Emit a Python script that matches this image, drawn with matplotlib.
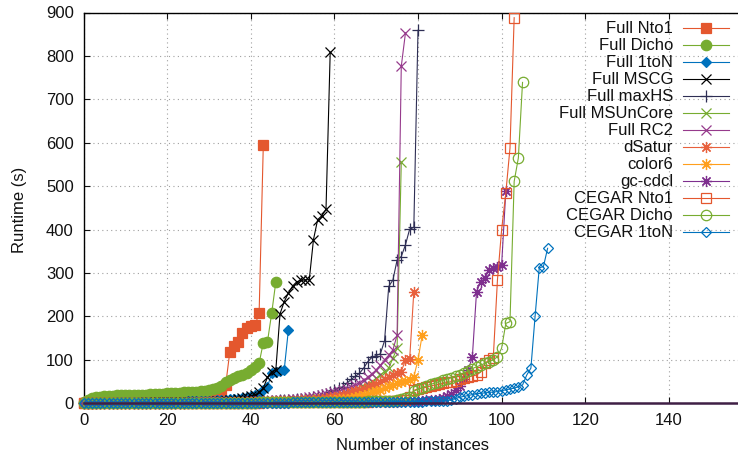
import numpy as np
import matplotlib.pyplot as plt
from matplotlib.lines import Line2D

plt.rcParams['font.family'] = ['Liberation Sans', 'DejaVu Sans']

# sorted runtimes (s) per solver, x = instance index
full_nto1 = [1, 1, 1, 2, 2, 2, 2, 3, 3, 3, 3, 4, 4, 4, 4, 5, 5, 5, 5, 6, 6, 6, 7, 7, 7, 8, 8, 9, 9, 10,
             11, 12, 14, 25, 42, 119, 132, 142, 162, 173, 177, 180, 207, 594]
full_dicho = [3, 8, 12, 14, 15, 16, 17, 17, 18, 18, 19, 19, 19, 20, 20, 20, 21, 21, 22, 22, 23, 23, 24, 24,
              25, 26, 27, 27, 28, 29, 30, 32, 35, 40, 50, 54, 58, 62, 66, 70, 77, 84, 92, 140, 142, 207, 280]
full_1ton = [0, 0, 1, 1, 1, 1, 1, 1, 2, 2, 2, 2, 2, 2, 3, 3, 3, 3, 3, 3, 4, 4, 4, 4, 4, 5, 5, 5, 5, 6,
             6, 6, 7, 7, 7, 9, 10, 11, 12, 14, 16, 19, 22, 31, 38, 69, 72, 74, 77, 169]
full_mscg = [1, 1, 1, 1, 1, 1, 1, 1, 1, 1, 1, 1, 1, 1, 1, 2, 2, 2, 2, 2, 2, 2, 2, 2, 3, 3, 3, 3, 3, 4,
             4, 4, 5, 5, 6, 7, 8, 10, 12, 14, 17, 19, 25, 35, 60, 73, 77, 206, 234, 254, 270, 280, 283,
             284, 285, 377, 423, 432, 447, 808]
full_maxhs = [0, 0, 0, 0, 0, 0, 0, 0, 0, 0, 1, 1, 1, 1, 1, 1, 1, 1, 1, 1, 1, 1, 1, 1, 1, 2, 2, 2, 2, 2,
              2, 2, 2, 2, 3, 3, 3, 3, 3, 4, 4, 4, 5, 5, 5, 6, 6, 7, 7, 8, 8, 9, 10, 11, 12, 14,
              16, 19, 22, 26, 30, 35, 38, 46, 55, 62, 69, 81, 96, 106, 110, 114, 144, 269, 284, 330,
              338, 365, 401, 405, 859]
full_msuncore = [0, 0, 0, 0, 0, 0, 0, 0, 0, 0, 0, 0, 1, 1, 1, 1, 1, 1, 1, 1, 1, 1, 1, 1, 1, 1, 1, 2, 2, 2,
                 2, 2, 2, 2, 2, 2, 3, 3, 3, 3, 3, 4, 4, 4, 5, 5, 5, 6, 6, 7, 7, 8, 8, 9, 10, 10, 11, 12,
                 13, 14, 16, 18, 20, 23, 26, 30, 34, 38, 43, 50, 58, 65, 73, 81, 104, 127, 555]
full_rc2 = [0, 0, 0, 0, 0, 0, 0, 0, 0, 0, 0, 0, 0, 0, 0, 1, 1, 1, 1, 1, 1, 1, 1, 1, 1, 1, 2, 2, 2, 2,
            2, 2, 2, 3, 3, 3, 3, 4, 4, 4, 5, 5, 5, 6, 6, 6, 7, 7, 8, 8, 9, 10, 11, 12, 14, 15, 17, 19,
            21, 23, 25, 28, 31, 34, 38, 42, 47, 53, 60, 68, 77, 88, 100, 111, 123, 157, 776, 853]
dsatur = [0, 0, 0, 0, 0, 0, 0, 0, 0, 0, 0, 0, 0, 0, 0, 0, 0, 1, 1, 1, 1, 1, 1, 1, 1, 1, 1, 1, 2, 2,
          2, 2, 2, 2, 2, 3, 3, 3, 3, 3, 3, 4, 4, 4, 4, 5, 5, 5, 5, 6, 6, 6, 7, 7, 7, 8, 9, 10, 12, 14,
          15, 17, 20, 22, 25, 28, 30, 34, 38, 42, 45, 50, 55, 60, 65, 69, 73, 100, 101, 257]
color6 = [0, 0, 0, 0, 0, 0, 0, 0, 0, 0, 0, 0, 0, 0, 0, 0, 0, 0, 0, 0, 1, 1, 1, 1, 1, 1, 1, 1, 1, 1,
          1, 1, 1, 1, 1, 2, 2, 2, 2, 2, 2, 2, 2, 2, 2, 3, 3, 3, 3, 3, 3, 4, 4, 4, 4, 5, 5, 6, 6, 7,
          8, 9, 10, 11, 13, 15, 17, 19, 22, 25, 28, 31, 35, 40, 43, 46, 50, 52, 54, 61, 100, 157]
gc_cdcl = [0, 0, 0, 0, 0, 0, 0, 0, 0, 0, 0, 0, 0, 0, 0, 0, 0, 0, 0, 0, 0, 0, 0, 0, 0, 0, 0, 0, 0, 0,
           1, 1, 1, 1, 1, 1, 1, 1, 1, 1, 1, 1, 1, 1, 1, 1, 1, 1, 1, 1, 2, 2, 2, 2, 2, 2, 2, 2, 2, 2,
           2, 2, 3, 3, 3, 3, 3, 3, 3, 3, 4, 4, 4, 4, 4, 4, 5, 5, 5, 5, 6, 6, 7, 7,
           8, 10, 13, 17, 22, 30, 40, 55, 77, 107, 257, 280, 288, 307, 311, 315, 319, 488]
cegar_nto1 = [0, 0, 0, 0, 0, 0, 0, 0, 0, 0, 0, 0, 0, 0, 0, 0, 0, 0, 0, 0, 0, 0, 0, 0, 0,
              1, 1, 1, 1, 1, 1, 1, 1, 1, 1, 1, 1, 1, 1, 1, 1, 1, 1, 2, 2, 2, 2, 2, 2, 2, 2, 2, 2,
              2, 2, 3, 3, 3, 3, 3, 3, 3, 3, 4, 4, 4, 4, 4, 4, 5, 5, 5, 5, 6, 6, 6, 7, 8,
              15, 30, 33, 35, 37, 40, 42, 44, 46, 48, 50, 52, 55, 58, 61, 63, 65, 72, 92, 100, 104,
              284, 400, 484, 588, 888]
cegar_dicho = [0, 0, 0, 0, 0, 0, 0, 0, 0, 0, 0, 0, 0, 0, 0, 0, 0, 0, 0, 0, 0, 0, 0, 0,
               1, 1, 1, 1, 1, 1, 1, 1, 1, 1, 1, 1, 1, 1, 1, 1, 1, 1, 2, 2, 2, 2, 2, 2, 2, 2, 2, 2,
               2, 2, 3, 3, 3, 3, 3, 3, 3, 3, 4, 4, 4, 4, 4, 4, 5, 5, 5, 5, 6, 6, 6, 8, 10, 12, 15,
               28, 32, 36, 40, 44, 46, 50, 53, 56, 59, 62, 66, 70, 75, 80, 84, 88, 92, 96, 100, 107,
               127, 184, 188, 511, 565, 739]
cegar_1ton = [0, 0, 0, 0, 0, 0, 0, 0, 0, 0, 0, 0, 0, 0, 0, 0, 0, 0, 0, 0, 0, 0, 0, 0, 0, 0, 0, 0, 0, 0,
              1, 1, 1, 1, 1, 1, 1, 1, 1, 1, 1, 1, 1, 1, 1, 1, 1, 1, 1, 1,
              2, 2, 2, 2, 2, 2, 2, 2, 2, 2, 2, 2, 2, 2, 3, 3, 3, 3, 3, 3, 3, 3, 3, 3,
              4, 4, 4, 4, 4, 4, 4, 4, 5, 5, 5, 5, 6, 6,
              8, 11, 14, 16, 18, 20, 22, 23, 24, 25, 26, 27, 29, 31, 33, 35, 38, 42, 65, 81, 200,
              312, 315, 357]

labels = ['Full Nto1', 'Full Dicho', 'Full 1toN', 'Full MSCG', 'Full maxHS', 'Full MSUnCore',
          'Full RC2', 'dSatur', 'color6', 'gc-cdcl', 'CEGAR Nto1', 'CEGAR Dicho', 'CEGAR 1toN']
data = [full_nto1, full_dicho, full_1ton, full_mscg, full_maxhs, full_msuncore, full_rc2,
        dsatur, color6, gc_cdcl, cegar_nto1, cegar_dicho, cegar_1ton]
xtick_vals = [0, 20, 40, 60, 80, 100, 120, 140, 160]
xtick_labels = ['0', '20', '40', '60', '80', '100', '120', '140', '']

# style per series: color, marker, size, filled
asterisk = (8, 2, 0)
styles = [('#e4572e', 's', 7, True), ('#77ac30', 'o', 7.5, True), ('#0072bd', 'D', 5.5, True),
          ('#000000', 'x', 6.5, False), ('#2e2e54', '+', 8, False), ('#77ac30', 'x', 6.5, False),
          ('#963a8c', 'x', 6.5, False), ('#e8603c', asterisk, 8, False), ('#ff9f1c', asterisk, 8, False),
          ('#7e2f8e', asterisk, 8, False), ('#e4572e', 's', 7, False), ('#77ac30', 'o', 7.5, False),
          ('#0072bd', 'D', 5.5, False)]

W, H = 738, 458
FS = 12
fig = plt.figure(figsize=(W / 100, H / 100), dpi=100)
ax = fig.add_axes([83.5 / W, 1 - 403.3 / H, 669 / W, (403.3 - 12.5) / H])

for y, (c, m, ms, filled) in zip(data, styles):
    ax.plot(np.arange(len(y)), y, color=c, lw=0.8, marker=m, ms=ms,
            mfc=c if filled else 'none', mec=c, mew=0.9, clip_on=False, zorder=3)

ax.set_xlim(0, 160)
ax.set_ylim(0, 900)
ax.set_xticks(xtick_vals)
ax.set_xticklabels(xtick_labels)
ax.set_yticks(np.arange(0, 901, 100))
ax.tick_params(direction='in', length=4.5, width=0.8, top=True, right=True,
               labelsize=FS, pad=7, colors='#111111')
ax.grid(True, ls=(0, (1, 3)), color='#a0a0a0', lw=0.8)
ax.set_axisbelow(True)
for s in ['left', 'top', 'right']:
    ax.spines[s].set_linewidth(1.0)
ax.spines['bottom'].set_color('#3f1f45')
ax.spines['bottom'].set_linewidth(1.8)
ax.spines['bottom'].set_zorder(4)

fig.text(20 / W, 1 - 210 / H, 'Runtime (s)', rotation=90, ha='center', va='center',
         fontsize=FS, color='#111111')
fig.text(413 / W, 1 - 445 / H, 'Number of instances', ha='center', va='center',
         fontsize=FS, color='#111111')

# legend drawn by hand: text right aligned, sample on the right
for i, (lab, (c, m, ms, filled)) in enumerate(zip(labels, styles)):
    fy = 1 - (28.3 + 17.0 * i) / H
    fig.text(673 / W, fy, lab, ha='right', va='center', fontsize=FS, color='#111111')
    fig.add_artist(Line2D([683 / W, 729 / W], [fy, fy], transform=fig.transFigure,
                          color=c, lw=0.8))
    fig.add_artist(Line2D([706 / W], [fy], transform=fig.transFigure, color=c, lw=0,
                          marker=m, ms=ms, mfc=c if filled else 'none', mec=c, mew=0.9))

fig.savefig('out.png', dpi=100)
